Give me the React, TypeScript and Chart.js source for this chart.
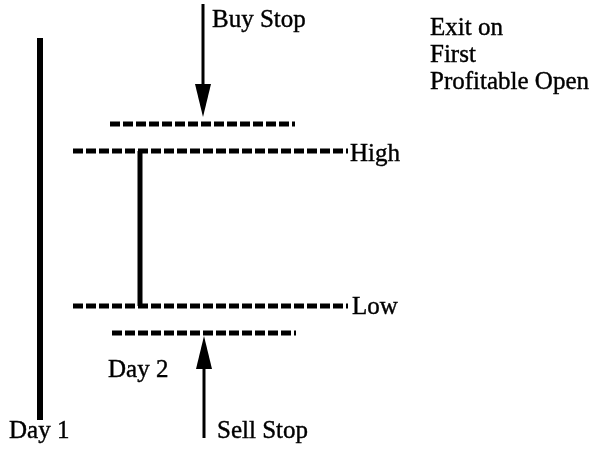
import React, { useEffect, useRef } from "react";
import { Chart, registerables } from "chart.js";

Chart.register(...registerables);

// Diagram coordinates (x across the page, y down the page)
const day1Bar = [ { x: 40, y: 38 }, { x: 40, y: 420 } ];
const day2Bar = [ { x: 140, y: 151 }, { x: 140, y: 306 } ];
const buyStopLevel = [ { x: 110, y: 124 }, { x: 295, y: 124 } ];
const highLevel = [ { x: 73, y: 151 }, { x: 348, y: 151 } ];
const lowLevel = [ { x: 73, y: 306 }, { x: 348, y: 306 } ];
const sellStopLevel = [ { x: 112, y: 333 }, { x: 296, y: 333 } ];
const buyArrow = [ { x: 203, y: 4 }, { x: 203, y: 117 } ];
const sellArrow = [ { x: 204, y: 438 }, { x: 204, y: 336 } ];

const labelTexts = ["Buy Stop", "Exit on", "First", "Profitable Open", "High", "Low", "Day 2", "Day 1", "Sell Stop"];
const labelX = [212, 430, 430, 430, 350, 352, 108, 9, 217];
const labelY = [27, 35, 62, 89, 161, 314, 377, 438, 438];

const arrowList = [buyArrow, sellArrow];

const FONT = "25px 'Liberation Serif', 'Times New Roman', serif";

export default function App() {
  const ref = useRef<HTMLCanvasElement>(null);
  useEffect(() => {
    if (!ref.current) return;
    const solid = (data: any[], w: number) => ({
      data,
      borderColor: "#000",
      borderWidth: w,
      pointRadius: 0,
      borderCapStyle: "butt" as const,
      showLine: true,
    });
    const dashed = (data: any[]) => ({
      data,
      borderColor: "#000",
      borderWidth: 5,
      borderDash: [10, 3],
      pointRadius: 0,
      borderCapStyle: "butt" as const,
      showLine: true,
    });
    const shaft = (pts: { x: number; y: number }[]) => {
      const dir = Math.sign(pts[1].y - pts[0].y);
      return [pts[0], { x: pts[1].x, y: pts[1].y - dir * 30 }];
    };
    const arrowPlugin = {
      id: "arrows",
      afterDatasetsDraw(chart: any) {
        const ctx = chart.ctx;
        const xs = chart.scales.x;
        const ys = chart.scales.y;
        ctx.save();
        ctx.fillStyle = "#000";
        arrowList.forEach((pts) => {
          const tipX = xs.getPixelForValue(pts[1].x);
          const tipY = ys.getPixelForValue(pts[1].y);
          const dir = Math.sign(tipY - ys.getPixelForValue(pts[0].y));
          const baseY = tipY - dir * 33;
          ctx.beginPath();
          ctx.moveTo(tipX, tipY);
          ctx.lineTo(tipX - 8, baseY);
          ctx.lineTo(tipX + 8, baseY);
          ctx.closePath();
          ctx.fill();
        });
        ctx.font = FONT;
        ctx.textBaseline = "alphabetic";
        ctx.textAlign = "left";
        ctx.strokeStyle = "#000";
        ctx.lineWidth = 0.4;
        labelTexts.forEach((t, i) => {
          const px = xs.getPixelForValue(labelX[i]);
          const py = ys.getPixelForValue(labelY[i]);
          ctx.fillText(t, px, py);
          ctx.strokeText(t, px, py);
        });
        ctx.restore();
      },
    };
    const chart = new Chart(ref.current, {
      type: "scatter",
      data: {
        datasets: [
          solid(day1Bar, 6),
          solid(day2Bar, 5),
          dashed(buyStopLevel),
          dashed(highLevel),
          dashed(lowLevel),
          dashed(sellStopLevel),
          solid(shaft(buyArrow), 3),
          solid(shaft(sellArrow), 3),
        ] as any,
      },
      options: {
        animation: false,
        responsive: false,
        events: [],
        layout: { padding: 0 },
        plugins: { legend: { display: false }, tooltip: { enabled: false } },
        scales: {
          x: { type: "linear", min: 0, max: 594, display: false },
          y: { type: "linear", min: 0, max: 457, reverse: true, display: false },
        },
      },
      plugins: [arrowPlugin],
    });
    return () => chart.destroy();
  }, []);
  return (
    <div style={{ position: "absolute", left: 0, top: 0, width: 594, height: 457, background: "#fff" }}>
      <canvas ref={ref} width={594} height={457} />
    </div>
  );
}
